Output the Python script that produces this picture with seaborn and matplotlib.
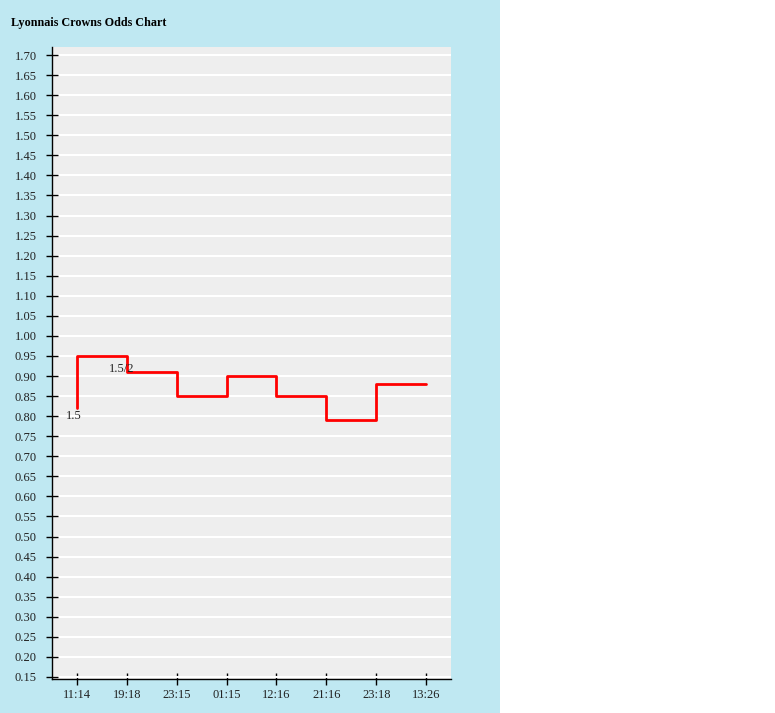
import matplotlib
matplotlib.use("Agg")
import matplotlib.pyplot as plt
import seaborn as sns
import pandas as pd
from matplotlib.patches import Rectangle

# Data
time_labels = ["11:14", "19:18", "23:15", "01:15", "12:16", "21:16", "23:18", "13:26"]
point_pos = [0, 0, 1, 2, 3, 4, 5, 6, 7]
odds_values = [0.82, 0.95, 0.91, 0.85, 0.90, 0.85, 0.79, 0.88, 0.88]
point_labels = ["1.5", "1.5/2"]
label_pos = [0, 1]
label_values = [0.82, 0.95]
y_ticks = [round(0.15 + 0.05 * i, 2) for i in range(32)]

df = pd.DataFrame({"x": point_pos, "y": odds_values})

sns.set_theme(style="white")
plt.rcParams["font.family"] = ["Liberation Serif", "DejaVu Serif"]

W, H = 775, 713
fig = plt.figure(figsize=(W / 100, H / 100), dpi=100)
fig.patch.set_facecolor("white")
bg = Rectangle((0, 0), 500 / W, 1, transform=fig.transFigure,
               facecolor="#bfe8f2", edgecolor="none", zorder=-10)
fig.patches.append(bg)

ax = fig.add_axes([52 / W, (H - 679) / H, (451 - 52) / W, (679 - 47) / H])
ax.set_zorder(1)
ax.set_facecolor("#eeeeee")

sns.lineplot(data=df, x="x", y="y", ax=ax, estimator=None, sort=False,
             color="#ff0000", linewidth=2, drawstyle="steps-post", zorder=3)

ax.set_xlim(-0.5, 7.5)
ax.set_ylim(0.145, 1.72)
ax.set_xticks(range(len(time_labels)))
ax.set_xticklabels(time_labels)
ax.set_yticks(y_ticks)
ax.set_yticklabels([f"{v:.2f}" for v in y_ticks])
ax.set_xlabel("")
ax.set_ylabel("")

ax.grid(axis="y", color="white", linewidth=1.5)
ax.grid(axis="x", visible=False)
ax.set_axisbelow(True)

for s in ["top", "right"]:
    ax.spines[s].set_visible(False)
for s in ["left", "bottom"]:
    ax.spines[s].set_visible(True)
    ax.spines[s].set_color("black")
    ax.spines[s].set_linewidth(1)

ax.tick_params(axis="both", direction="inout", length=8, width=1, color="black",
               labelsize=9, labelcolor="#222222", bottom=True, left=True)
ax.tick_params(axis="y", pad=7)
ax.tick_params(axis="x", pad=3)

label_offsets = [(-2, -1), (-4, -5)]
for lbl, xp, yp, off in zip(point_labels, label_pos, label_values, label_offsets):
    ax.annotate(lbl, (xp, yp), xytext=off, textcoords="offset points",
                ha="center", va="top", fontsize=9, color="#222222", zorder=4)

fig.text(11 / W, 1 - 23 / H, "Lyonnais Crowns Odds Chart", fontsize=8.7,
         fontweight="bold", color="black", ha="left", va="center")

fig.savefig("out.png", dpi=100, facecolor=fig.get_facecolor())
